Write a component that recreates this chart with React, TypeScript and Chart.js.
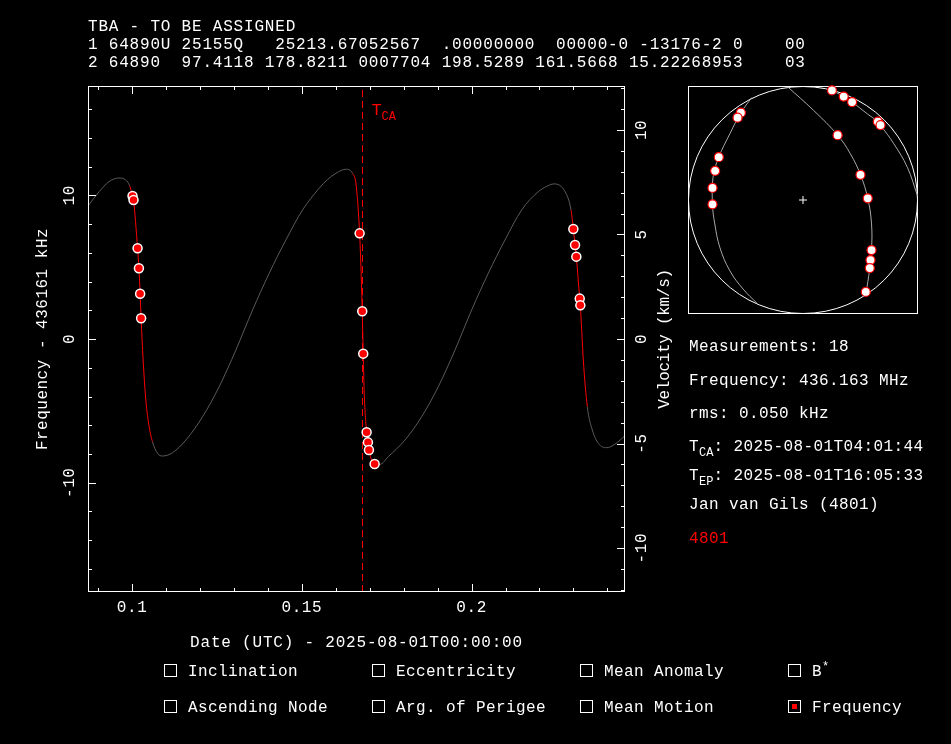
import React, { useEffect, useRef } from 'react';
import { Chart, registerables } from 'chart.js';

Chart.register(...registerables);

// ---------------- text content ----------------
const HEADER_LINES = [
  'TBA - TO BE ASSIGNED',
  '1 64890U 25155Q   25213.67052567  .00000000  00000-0 -13176-2 0    00',
  '2 64890  97.4118 178.8211 0007704 198.5289 161.5668 15.22268953    03',
];
const INFO_MEASUREMENTS = 'Measurements: 18';
const INFO_FREQUENCY = 'Frequency: 436.163 MHz';
const INFO_RMS = 'rms: 0.050 kHz';
const INFO_TCA = '2025-08-01T04:01:44';
const INFO_TEP = '2025-08-01T16:05:33';
const INFO_OBSERVER = 'Jan van Gils (4801)';
const INFO_SITE = '4801';
const X_TITLE = 'Date (UTC) - 2025-08-01T00:00:00';
const Y_TITLE = 'Frequency - 436161 kHz';
const Y2_TITLE = 'Velocity (km/s)';
const LEGEND_ITEMS = ['Inclination', 'Eccentricity', 'Mean Anomaly', 'B*', 'Ascending Node', 'Arg. of Perigee', 'Mean Motion', 'Frequency'];
const LEGEND_CHECKED = [false, false, false, false, false, false, false, true];

// ---------------- axes ----------------
const X_MIN = 0.087;
const X_MAX = 0.2452;
const Y_MIN = -17.6;
const Y_MAX = 17.6;
const V_MIN = -12.1;
const V_MAX = 12.1;
const X_STEP = 0.01;
const Y_STEP = 2;
const V_STEP = 1;
const X_MAJOR_TICKS = [0.1, 0.15, 0.2];
const X_MAJOR_LABELS = ['0.1', '0.15', '0.2'];
const Y_MAJOR_TICKS = [-10, 0, 10];
const Y_MAJOR_LABELS = ['-10', '0', '10'];
const V_MAJOR_TICKS = [-10, -5, 0, 5, 10];
const V_MAJOR_LABELS = ['-10', '-5', '0', '5', '10'];

// time of closest approach (days since 2025-08-01T00:00:00)
const TCA = 0.16787;

// ---------------- model Doppler curve (days, kHz) ----------------
const CURVE_T = [
  0.0870, 0.0903, 0.0932, 0.0962, 0.0981, 0.0993, 0.1001, 0.10041, 0.1016, 0.1020,
  0.10236, 0.10265, 0.10324, 0.10404, 0.10501, 0.1060, 0.10749, 0.10896, 0.11191, 0.11583,
  0.12075, 0.12564, 0.13056, 0.13549, 0.14038, 0.1453, 0.15022, 0.15511, 0.1576, 0.16004, 0.16298,
  0.1650, 0.1660, 0.16702, 0.1674, 0.16779, 0.16808, 0.16838, 0.16908, 0.16947, 0.16976,
  0.1715, 0.1730, 0.17545, 0.18037, 0.18529, 0.19019, 0.19511, 0.20003, 0.20492, 0.20985,
  0.21477, 0.21966, 0.2220, 0.22429, 0.22753, 0.2293, 0.22998, 0.23048, 0.23086, 0.23186, 0.23204,
  0.23292, 0.2341, 0.23557, 0.23734, 0.23982, 0.24226, 0.2452,
];
const CURVE_F = [
  9.26, 10.25, 10.95, 11.2, 11.06, 10.65, 9.95, 9.67, 6.31, 4.92,
  3.15, 1.44, -1.46, -4.24, -6.1, -7.15, -7.96, -8.14, -7.91, -7.03,
  -5.41, -3.32, -0.77, 2.02, 4.57, 6.89, 8.98, 10.49, 11.1, 11.53, 11.81,
  11.5, 10.7, 7.35, 5.03, 1.93, -1.02, -3.78, -6.49, -7.19, -7.72,
  -8.71, -8.72, -8.19, -7.03, -5.41, -3.32, -0.77, 2.02, 4.57, 6.89,
  8.98, 10.25, 10.6, 10.79, 10.25, 8.98, 7.65, 6.54, 5.73, 2.81, 2.34,
  -1.46, -4.71, -6.33, -7.26, -7.56, -7.31, -6.73,
];
// visible pass windows (drawn red)
const PASS_START = [0.0993, 0.1650, 0.2293];
const PASS_END = [0.1060, 0.1715, 0.2341];

// ---------------- measurements (days, kHz) ----------------
const MEAS_T = [
  0.10012, 0.10041, 0.1016, 0.1020, 0.10236, 0.10265,
  0.16702, 0.16779, 0.16808, 0.16908, 0.16947, 0.16976, 0.17144,
  0.22998, 0.23048, 0.23086, 0.23186, 0.23204,
];
const MEAS_F = [
  9.95, 9.67, 6.31, 4.92, 3.15, 1.44,
  7.35, 1.93, -1.02, -6.49, -7.19, -7.72, -8.7,
  7.65, 6.54, 5.73, 2.81, 2.34,
];

// ---------------- sky plot (normalised horizon coordinates) ----------------
const SKY1_X = [-0.446, -0.54, -0.636, -0.732, -0.782, -0.787, -0.767, -0.723, -0.636, -0.52, -0.397];
const SKY1_Y = [0.898, 0.766, 0.581, 0.376, 0.2, -0.038, -0.21, -0.416, -0.621, -0.782, -0.909];
const SKY2_X = [-0.132, 0.092, 0.301, 0.412, 0.5, 0.563, 0.596, 0.596, 0.581, 0.546];
const SKY2_Y = [0.991, 0.786, 0.569, 0.405, 0.221, 0.015, -0.21, -0.439, -0.597, -0.83];
const SKY3_X = [0.252, 0.354, 0.427, 0.558, 0.651, 0.674, 0.79, 0.907, 0.995];
const SKY3_Y = [0.962, 0.907, 0.859, 0.757, 0.687, 0.657, 0.493, 0.288, 0.039];
const SKY_PT_X = [
  -0.54, -0.569, -0.732, -0.764, -0.787, -0.787,
  0.301, 0.5, 0.563, 0.596, 0.587, 0.581, 0.546,
  0.252, 0.354, 0.427, 0.651, 0.674,
];
const SKY_PT_Y = [
  0.766, 0.722, 0.376, 0.256, 0.106, -0.038,
  0.569, 0.221, 0.015, -0.439, -0.527, -0.597, -0.806,
  0.962, 0.907, 0.859, 0.687, 0.657,
];

// ---------------- styles ----------------
const FONT_FAMILY = '"Liberation Mono", "DejaVu Sans Mono", monospace';
const FS = 16;
const RED = '#ff0000';
const GRAY = '#5a5a5a';
const TRACK_GRAY = '#a8a8a8';
const WHITE = '#ffffff';

const pts = (xs: number[], ys: number[]) => xs.map((x, i) => ({ x, y: ys[i] }));
const inPass = (t: number) => PASS_START.some((s, i) => t >= s - 1e-9 && t <= PASS_END[i] + 1e-9);
const isMajor = (v: number, majors: number[]) => majors.some((m) => Math.abs(m - v) < 1e-7);

const setSpacing = (ctx: any, s: string) => {
  try { ctx.letterSpacing = s; } catch (e) { /* ignore */ }
};

const pgAxes = {
  id: 'pgAxes',
  afterDatasetsDraw(chart: any) {
    const { ctx, chartArea } = chart;
    const { left, right, top, bottom } = chartArea;
    const xs = chart.scales.x;
    const ys = chart.scales.y;
    const vs = chart.scales.y2;
    ctx.save();
    ctx.strokeStyle = WHITE;
    ctx.lineWidth = 1;
    ctx.strokeRect(left + 0.5, top + 0.5, right - left - 1, bottom - top - 1);
    ctx.beginPath();
    xs.ticks.forEach((t: any) => {
      const px = Math.round(xs.getPixelForValue(t.value)) + 0.5;
      const len = isMajor(t.value, X_MAJOR_TICKS) ? 8 : 4;
      ctx.moveTo(px, bottom); ctx.lineTo(px, bottom - len);
      ctx.moveTo(px, top); ctx.lineTo(px, top + len);
    });
    ys.ticks.forEach((t: any) => {
      const py = Math.round(ys.getPixelForValue(t.value)) + 0.5;
      const len = isMajor(t.value, Y_MAJOR_TICKS) ? 8 : 4;
      ctx.moveTo(left, py); ctx.lineTo(left + len, py);
    });
    vs.ticks.forEach((t: any) => {
      const py = Math.round(vs.getPixelForValue(t.value)) + 0.5;
      const len = isMajor(t.value, V_MAJOR_TICKS) ? 8 : 4;
      ctx.moveTo(right, py); ctx.lineTo(right - len, py);
    });
    ctx.stroke();

    ctx.fillStyle = WHITE;
    ctx.font = `${FS}px ${FONT_FAMILY}`;
    ctx.textAlign = 'center';
    ctx.textBaseline = 'middle';
    setSpacing(ctx, '0.6px');
    X_MAJOR_TICKS.forEach((v, i) => {
      ctx.fillText(X_MAJOR_LABELS[i], xs.getPixelForValue(v), 608);
    });
    const rotText = (txt: string, x: number, y: number) => {
      ctx.save();
      ctx.translate(x, y);
      ctx.rotate(-Math.PI / 2);
      ctx.fillText(txt, 0, 0);
      ctx.restore();
    };
    Y_MAJOR_TICKS.forEach((v, i) => rotText(Y_MAJOR_LABELS[i], 70, ys.getPixelForValue(v)));
    V_MAJOR_TICKS.forEach((v, i) => rotText(V_MAJOR_LABELS[i], 642, vs.getPixelForValue(v)));
    setSpacing(ctx, '0.5px');
    rotText(Y_TITLE, 43, (top + bottom) / 2);
    setSpacing(ctx, '-0.3px');
    rotText(Y2_TITLE, 665, (top + bottom) / 2);
    setSpacing(ctx, '0.8px');
    ctx.fillText(X_TITLE, (left + right) / 2, 643);

    // T_CA marker label
    const tx = xs.getPixelForValue(TCA) + 9;
    ctx.fillStyle = RED;
    ctx.textAlign = 'left';
    ctx.textBaseline = 'alphabetic';
    setSpacing(ctx, '0px');
    ctx.font = `17px ${FONT_FAMILY}`;
    ctx.fillText('T', tx, 115);
    ctx.font = `12px ${FONT_FAMILY}`;
    ctx.fillText('CA', tx + 10, 120);
    ctx.restore();
  },
};

const skyFrame = {
  id: 'skyFrame',
  beforeDatasetsDraw(chart: any) {
    const { ctx, chartArea } = chart;
    const { left, right, top, bottom } = chartArea;
    const xs = chart.scales.x;
    const ys = chart.scales.y;
    ctx.save();
    ctx.strokeStyle = WHITE;
    ctx.lineWidth = 1;
    ctx.strokeRect(left + 0.5, top + 0.5, right - left - 1, bottom - top - 1);
    const cx = xs.getPixelForValue(0);
    const cy = ys.getPixelForValue(0);
    const rx = xs.getPixelForValue(1) - cx;
    const ry = cy - ys.getPixelForValue(1);
    ctx.beginPath();
    ctx.ellipse(cx, cy, rx - 0.5, ry - 0.5, 0, 0, Math.PI * 2);
    ctx.stroke();
    ctx.restore();
  },
};

function MainChart() {
  const ref = useRef<HTMLCanvasElement | null>(null);
  useEffect(() => {
    if (!ref.current) return;
    const chart = new Chart(ref.current, {
      type: 'scatter',
      data: {
        datasets: [
          {
            label: 'Measurements',
            data: pts(MEAS_T, MEAS_F),
            showLine: false,
            pointRadius: 4.5,
            pointBackgroundColor: RED,
            pointBorderColor: WHITE,
            pointBorderWidth: 1.5,
          },
          {
            label: 'Model',
            data: pts(CURVE_T, CURVE_F),
            showLine: true,
            pointRadius: 0,
            borderWidth: 1,
            borderColor: GRAY,
            cubicInterpolationMode: 'monotone',
            segment: {
              borderColor: (c: any) => (inPass((c.p0.parsed.x + c.p1.parsed.x) / 2) ? RED : GRAY),
            },
          } as any,
          {
            label: 'TCA',
            data: [{ x: TCA, y: Y_MIN }, { x: TCA, y: Y_MAX }],
            showLine: true,
            pointRadius: 0,
            borderWidth: 1,
            borderColor: RED,
            borderDash: [7, 4],
          },
        ],
      },
      options: {
        responsive: false,
        animation: false,
        events: [],
        layout: { padding: { left: 88, top: 86, right: 326, bottom: 152 } },
        plugins: { legend: { display: false }, tooltip: { enabled: false } },
        scales: {
          x: { type: 'linear', min: X_MIN, max: X_MAX, display: false, ticks: { stepSize: X_STEP, includeBounds: false } },
          y: { type: 'linear', min: Y_MIN, max: Y_MAX, display: false, ticks: { stepSize: Y_STEP, includeBounds: false } },
          y2: { type: 'linear', position: 'right', min: V_MIN, max: V_MAX, display: false, ticks: { stepSize: V_STEP, includeBounds: false } },
        },
      } as any,
      plugins: [pgAxes],
    });
    return () => chart.destroy();
  }, []);
  return <canvas ref={ref} width={951} height={744} style={{ position: 'absolute', left: 0, top: 0 }} />;
}

function SkyChart() {
  const ref = useRef<HTMLCanvasElement | null>(null);
  useEffect(() => {
    if (!ref.current) return;
    const track = (xs: number[], ys: number[], label: string) => ({
      label,
      data: pts(xs, ys),
      showLine: true,
      pointRadius: 0,
      borderWidth: 1,
      borderColor: TRACK_GRAY,
      tension: 0.4,
      clip: false,
    });
    const chart = new Chart(ref.current, {
      type: 'scatter',
      data: {
        datasets: [
          {
            label: 'Sky points',
            data: pts(SKY_PT_X, SKY_PT_Y),
            showLine: false,
            pointRadius: 4.5,
            pointBackgroundColor: WHITE,
            pointBorderColor: RED,
            pointBorderWidth: 1.2,
            clip: false,
          },
          {
            label: 'Observer',
            data: [{ x: 0, y: 0 }],
            showLine: false,
            pointStyle: 'cross',
            pointRadius: 4,
            pointBorderColor: WHITE,
            pointBorderWidth: 1,
          },
          track(SKY1_X, SKY1_Y, 'Pass 1'),
          track(SKY2_X, SKY2_Y, 'Pass 2'),
          track(SKY3_X, SKY3_Y, 'Pass 3'),
        ] as any,
      },
      options: {
        responsive: false,
        animation: false,
        events: [],
        layout: { padding: { left: 8, top: 6, right: 12, bottom: 6 } },
        plugins: { legend: { display: false }, tooltip: { enabled: false } },
        scales: {
          x: { type: 'linear', min: -1, max: 1, display: false },
          y: { type: 'linear', min: -1, max: 1, display: false },
        },
      } as any,
      plugins: [skyFrame],
    });
    return () => chart.destroy();
  }, []);
  return <canvas ref={ref} width={250} height={240} style={{ position: 'absolute', left: 680, top: 80 }} />;
}

const textBase: React.CSSProperties = {
  position: 'absolute',
  color: WHITE,
  fontFamily: FONT_FAMILY,
  fontSize: FS,
  lineHeight: '18px',
  whiteSpace: 'pre',
  letterSpacing: '0.4px',
};

const at = (left: number, cy: number, extra: React.CSSProperties = {}): React.CSSProperties => ({
  ...textBase,
  left,
  top: cy - 9,
  ...extra,
});

const sub: React.CSSProperties = { fontSize: 12, position: 'relative', top: 5, letterSpacing: '0px' };

export default function App() {
  const legendCols = [164, 372, 580, 788];
  const legendRows = [671, 707];
  return (
    <div style={{ position: 'fixed', left: 0, top: 0, width: 951, height: 744, background: '#000', overflow: 'hidden' }}>
      <MainChart />
      <SkyChart />
      {HEADER_LINES.map((l, i) => (
        <div key={i} style={at(88, 27 + i * 18, { letterSpacing: '0.8px' })}>{l}</div>
      ))}
      <div style={at(689, 347)}>{INFO_MEASUREMENTS}</div>
      <div style={at(689, 381)}>{INFO_FREQUENCY}</div>
      <div style={at(689, 414)}>{INFO_RMS}</div>
      <div style={at(689, 447)}>T<span style={sub}>CA</span>: {INFO_TCA}</div>
      <div style={at(689, 476)}>T<span style={sub}>EP</span>: {INFO_TEP}</div>
      <div style={at(689, 505)}>{INFO_OBSERVER}</div>
      <div style={at(689, 539, { color: RED })}>{INFO_SITE}</div>
      {LEGEND_ITEMS.map((item, i) => {
        const col = legendCols[i % 4];
        const row = legendRows[Math.floor(i / 4)];
        const star = item.endsWith('*');
        return (
          <React.Fragment key={item}>
            <div style={{ position: 'absolute', left: col, top: row - 7, width: 13, height: 13, boxSizing: 'border-box', border: `1px solid ${WHITE}` }}>
              {LEGEND_CHECKED[i] && (
                <div style={{ position: 'absolute', left: 3, top: 3, width: 5, height: 5, background: RED }} />
              )}
            </div>
            <div style={at(col + 24, row + 1)}>
              {star ? item.slice(0, -1) : item}
              {star && <span style={{ fontSize: 12, position: 'relative', top: -6 }}>*</span>}
            </div>
          </React.Fragment>
        );
      })}
    </div>
  );
}
